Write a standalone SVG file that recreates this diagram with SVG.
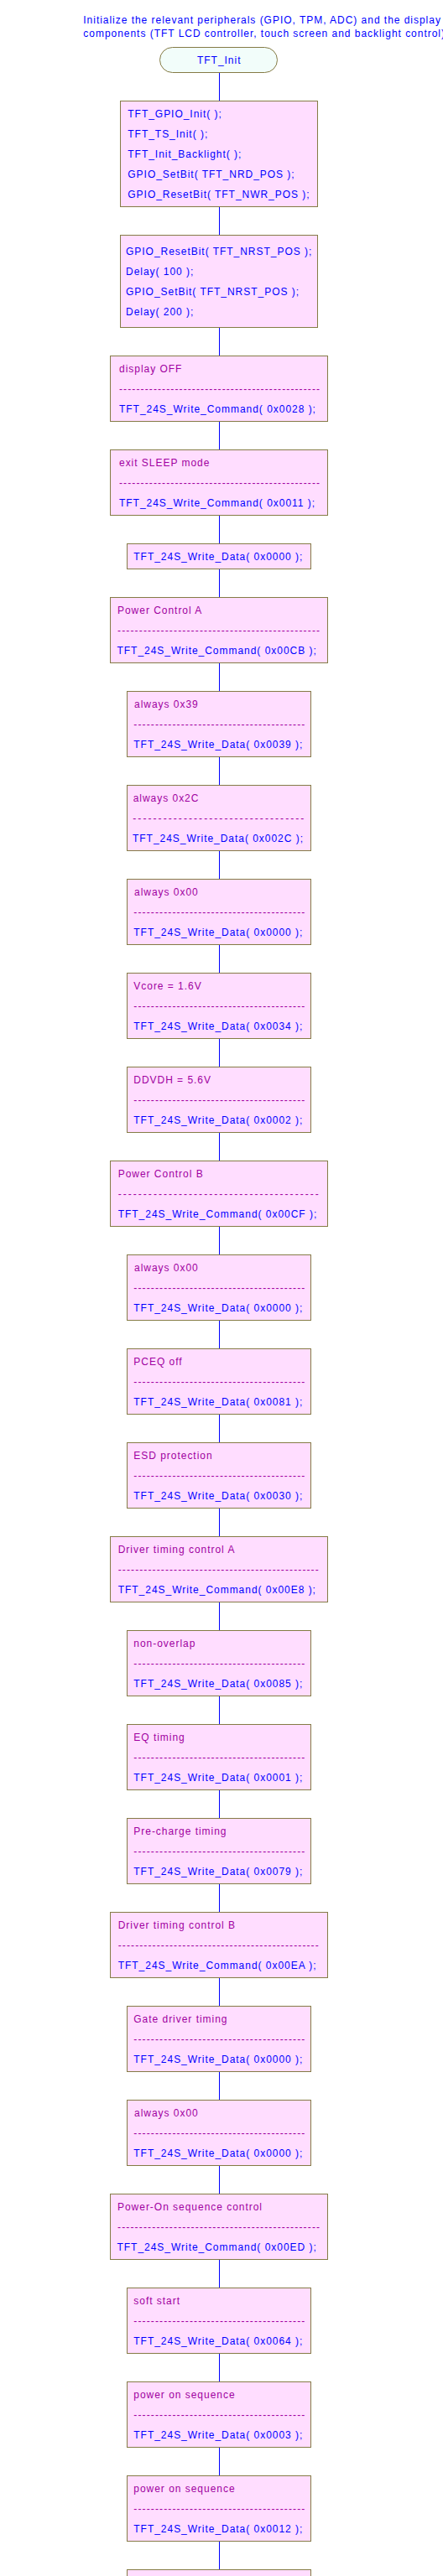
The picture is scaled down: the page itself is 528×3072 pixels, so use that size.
<svg xmlns="http://www.w3.org/2000/svg" width="528" height="3072" viewBox="0 0 528 3072">
<style>
text{font-family:"Liberation Sans",Arial,sans-serif;font-size:12px;letter-spacing:0.97px}
.b{fill:#0000FF}
.p{fill:#A000A0}
.box{fill:#FFDDFF;stroke:#857B45;stroke-width:1}
.term{fill:#F2FDFA;stroke:#857B45;stroke-width:1}
#connectors line{stroke:#0000FF;stroke-width:1}
</style>
<rect width="528" height="3072" fill="#FFFFFF"/>
<g id="header">
<text class="b" x="99.3" y="28.3">Initialize the relevant peripherals (GPIO, TPM, ADC) and the display</text>
<text class="b" x="99.3" y="44.3">components (TFT LCD controller, touch screen and backlight control)</text>
</g>
<g id="connectors">
<line x1="261.5" y1="86.5" x2="261.5" y2="120.5"/>
<line x1="261.5" y1="246.5" x2="261.5" y2="280.5"/>
<line x1="261.5" y1="390.5" x2="261.5" y2="424.5"/>
<line x1="261.5" y1="502.5" x2="261.5" y2="536.5"/>
<line x1="261.5" y1="614.5" x2="261.5" y2="648.5"/>
<line x1="261.5" y1="678.5" x2="261.5" y2="712.5"/>
<line x1="261.5" y1="790.5" x2="261.5" y2="824.5"/>
<line x1="261.5" y1="902.5" x2="261.5" y2="936.5"/>
<line x1="261.5" y1="1014.5" x2="261.5" y2="1048.5"/>
<line x1="261.5" y1="1126.5" x2="261.5" y2="1160.5"/>
<line x1="261.5" y1="1238.5" x2="261.5" y2="1272.5"/>
<line x1="261.5" y1="1350.5" x2="261.5" y2="1384.5"/>
<line x1="261.5" y1="1462.5" x2="261.5" y2="1496.5"/>
<line x1="261.5" y1="1574.5" x2="261.5" y2="1608.5"/>
<line x1="261.5" y1="1686.5" x2="261.5" y2="1720.5"/>
<line x1="261.5" y1="1798.5" x2="261.5" y2="1832.5"/>
<line x1="261.5" y1="1910.5" x2="261.5" y2="1944.5"/>
<line x1="261.5" y1="2022.5" x2="261.5" y2="2056.5"/>
<line x1="261.5" y1="2134.5" x2="261.5" y2="2168.5"/>
<line x1="261.5" y1="2246.5" x2="261.5" y2="2280.5"/>
<line x1="261.5" y1="2358.5" x2="261.5" y2="2392.5"/>
<line x1="261.5" y1="2470.5" x2="261.5" y2="2504.5"/>
<line x1="261.5" y1="2582.5" x2="261.5" y2="2616.5"/>
<line x1="261.5" y1="2694.5" x2="261.5" y2="2728.5"/>
<line x1="261.5" y1="2806.5" x2="261.5" y2="2840.5"/>
<line x1="261.5" y1="2918.5" x2="261.5" y2="2952.5"/>
<line x1="261.5" y1="3030.5" x2="261.5" y2="3064.5"/>
</g>
<g id="n0">
<rect class="term" x="190.5" y="56.5" width="140" height="30" rx="15" ry="15"/>
<text class="b" x="235" y="76">TFT_Init</text>
</g>
<g id="n1">
<rect class="box" x="143.5" y="120.5" width="235" height="126"/>
<text class="b" x="152.3" y="140.3">TFT_GPIO_Init( );</text>
<text class="b" x="152.3" y="164.2">TFT_TS_Init( );</text>
<text class="b" x="152.3" y="188">TFT_Init_Backlight( );</text>
<text class="b" x="152.3" y="211.9">GPIO_SetBit( TFT_NRD_POS );</text>
<text class="b" x="152.3" y="235.7">GPIO_ResetBit( TFT_NWR_POS );</text>
</g>
<g id="n2">
<rect class="box" x="143.5" y="280.5" width="235" height="110"/>
<text class="b" x="150" y="304">GPIO_ResetBit( TFT_NRST_POS );</text>
<text class="b" x="150" y="327.9">Delay( 100 );</text>
<text class="b" x="150" y="351.8">GPIO_SetBit( TFT_NRST_POS );</text>
<text class="b" x="150" y="375.7">Delay( 200 );</text>
</g>
<g id="n3">
<rect class="box" x="131.5" y="424.5" width="259" height="78"/>
<text class="p" x="142" y="444">display OFF</text>
<text class="p" x="142" y="468" textLength="240" lengthAdjust="spacing">-----------------------------------------------</text>
<text class="b" x="142" y="492">TFT_24S_Write_Command( 0x0028 );</text>
</g>
<g id="n4">
<rect class="box" x="131.5" y="536.5" width="259" height="78"/>
<text class="p" x="142" y="556">exit SLEEP mode</text>
<text class="p" x="142" y="580" textLength="240" lengthAdjust="spacing">-----------------------------------------------</text>
<text class="b" x="142" y="604">TFT_24S_Write_Command( 0x0011 );</text>
</g>
<g id="n5">
<rect class="box" x="151.5" y="648.5" width="219" height="30"/>
<text class="b" x="159.3" y="668.3">TFT_24S_Write_Data( 0x0000 );</text>
</g>
<g id="n6">
<rect class="box" x="131.5" y="712.5" width="259" height="78"/>
<text class="p" x="140" y="732">Power Control A</text>
<text class="p" x="140" y="756" textLength="242" lengthAdjust="spacing">-----------------------------------------------</text>
<text class="b" x="139.5" y="780">TFT_24S_Write_Command( 0x00CB );</text>
</g>
<g id="n7">
<rect class="box" x="151.5" y="824.5" width="219" height="78"/>
<text class="p" x="160" y="844">always 0x39</text>
<text class="p" x="159.3" y="868" textLength="205" lengthAdjust="spacing">----------------------------------------</text>
<text class="b" x="159.3" y="892">TFT_24S_Write_Data( 0x0039 );</text>
</g>
<g id="n8">
<rect class="box" x="151.5" y="936.5" width="219" height="78"/>
<text class="p" x="158.7" y="956">always 0x2C</text>
<text class="p" x="158.3" y="980" textLength="205" lengthAdjust="spacing">----------------------------------</text>
<text class="b" x="158" y="1004">TFT_24S_Write_Data( 0x002C );</text>
</g>
<g id="n9">
<rect class="box" x="151.5" y="1048.5" width="219" height="78"/>
<text class="p" x="160" y="1068">always 0x00</text>
<text class="p" x="159.3" y="1092" textLength="205" lengthAdjust="spacing">----------------------------------------</text>
<text class="b" x="159.3" y="1116">TFT_24S_Write_Data( 0x0000 );</text>
</g>
<g id="n10">
<rect class="box" x="151.5" y="1160.5" width="219" height="78"/>
<text class="p" x="159.3" y="1180">Vcore = 1.6V</text>
<text class="p" x="159.3" y="1204" textLength="205" lengthAdjust="spacing">----------------------------------------</text>
<text class="b" x="159.3" y="1228">TFT_24S_Write_Data( 0x0034 );</text>
</g>
<g id="n11">
<rect class="box" x="151.5" y="1272.5" width="219" height="78"/>
<text class="p" x="159.3" y="1292">DDVDH = 5.6V</text>
<text class="p" x="159.3" y="1316" textLength="205" lengthAdjust="spacing">----------------------------------------</text>
<text class="b" x="159.3" y="1340">TFT_24S_Write_Data( 0x0002 );</text>
</g>
<g id="n12">
<rect class="box" x="131.5" y="1384.5" width="259" height="78"/>
<text class="p" x="140.7" y="1404">Power Control B</text>
<text class="p" x="140.7" y="1428" textLength="240" lengthAdjust="spacing">----------------------------------------</text>
<text class="b" x="140.7" y="1452">TFT_24S_Write_Command( 0x00CF );</text>
</g>
<g id="n13">
<rect class="box" x="151.5" y="1496.5" width="219" height="78"/>
<text class="p" x="160" y="1516">always 0x00</text>
<text class="p" x="159.3" y="1540" textLength="205" lengthAdjust="spacing">----------------------------------------</text>
<text class="b" x="159.3" y="1564">TFT_24S_Write_Data( 0x0000 );</text>
</g>
<g id="n14">
<rect class="box" x="151.5" y="1608.5" width="219" height="78"/>
<text class="p" x="159.3" y="1628">PCEQ off</text>
<text class="p" x="159.3" y="1652" textLength="205" lengthAdjust="spacing">----------------------------------------</text>
<text class="b" x="159.3" y="1676">TFT_24S_Write_Data( 0x0081 );</text>
</g>
<g id="n15">
<rect class="box" x="151.5" y="1720.5" width="219" height="78"/>
<text class="p" x="159.3" y="1740">ESD protection</text>
<text class="p" x="159.3" y="1764" textLength="205" lengthAdjust="spacing">----------------------------------------</text>
<text class="b" x="159.3" y="1788">TFT_24S_Write_Data( 0x0030 );</text>
</g>
<g id="n16">
<rect class="box" x="131.5" y="1832.5" width="259" height="78"/>
<text class="p" x="140.7" y="1852">Driver timing control A</text>
<text class="p" x="140.7" y="1876" textLength="240" lengthAdjust="spacing">-----------------------------------------------</text>
<text class="b" x="140.7" y="1900">TFT_24S_Write_Command( 0x00E8 );</text>
</g>
<g id="n17">
<rect class="box" x="151.5" y="1944.5" width="219" height="78"/>
<text class="p" x="159.3" y="1964">non-overlap</text>
<text class="p" x="159.3" y="1988" textLength="205" lengthAdjust="spacing">----------------------------------------</text>
<text class="b" x="159.3" y="2012">TFT_24S_Write_Data( 0x0085 );</text>
</g>
<g id="n18">
<rect class="box" x="151.5" y="2056.5" width="219" height="78"/>
<text class="p" x="159.3" y="2076">EQ timing</text>
<text class="p" x="159.3" y="2100" textLength="205" lengthAdjust="spacing">----------------------------------------</text>
<text class="b" x="159.3" y="2124">TFT_24S_Write_Data( 0x0001 );</text>
</g>
<g id="n19">
<rect class="box" x="151.5" y="2168.5" width="219" height="78"/>
<text class="p" x="159.3" y="2188">Pre-charge timing</text>
<text class="p" x="159.3" y="2212" textLength="205" lengthAdjust="spacing">----------------------------------------</text>
<text class="b" x="159.3" y="2236">TFT_24S_Write_Data( 0x0079 );</text>
</g>
<g id="n20">
<rect class="box" x="131.5" y="2280.5" width="259" height="78"/>
<text class="p" x="140.7" y="2300">Driver timing control B</text>
<text class="p" x="140.7" y="2324" textLength="240" lengthAdjust="spacing">-----------------------------------------------</text>
<text class="b" x="140.7" y="2348">TFT_24S_Write_Command( 0x00EA );</text>
</g>
<g id="n21">
<rect class="box" x="151.5" y="2392.5" width="219" height="78"/>
<text class="p" x="159.3" y="2412">Gate driver timing</text>
<text class="p" x="159.3" y="2436" textLength="205" lengthAdjust="spacing">----------------------------------------</text>
<text class="b" x="159.3" y="2460">TFT_24S_Write_Data( 0x0000 );</text>
</g>
<g id="n22">
<rect class="box" x="151.5" y="2504.5" width="219" height="78"/>
<text class="p" x="160" y="2524">always 0x00</text>
<text class="p" x="159.3" y="2548" textLength="205" lengthAdjust="spacing">----------------------------------------</text>
<text class="b" x="159.3" y="2572">TFT_24S_Write_Data( 0x0000 );</text>
</g>
<g id="n23">
<rect class="box" x="131.5" y="2616.5" width="259" height="78"/>
<text class="p" x="140" y="2636">Power-On sequence control</text>
<text class="p" x="140" y="2660" textLength="242" lengthAdjust="spacing">-----------------------------------------------</text>
<text class="b" x="139.5" y="2684">TFT_24S_Write_Command( 0x00ED );</text>
</g>
<g id="n24">
<rect class="box" x="151.5" y="2728.5" width="219" height="78"/>
<text class="p" x="159.3" y="2748">soft start</text>
<text class="p" x="159.3" y="2772" textLength="205" lengthAdjust="spacing">----------------------------------------</text>
<text class="b" x="159.3" y="2796">TFT_24S_Write_Data( 0x0064 );</text>
</g>
<g id="n25">
<rect class="box" x="151.5" y="2840.5" width="219" height="78"/>
<text class="p" x="159.3" y="2860">power on sequence</text>
<text class="p" x="159.3" y="2884" textLength="205" lengthAdjust="spacing">----------------------------------------</text>
<text class="b" x="159.3" y="2908">TFT_24S_Write_Data( 0x0003 );</text>
</g>
<g id="n26">
<rect class="box" x="151.5" y="2952.5" width="219" height="78"/>
<text class="p" x="159.3" y="2972">power on sequence</text>
<text class="p" x="159.3" y="2996" textLength="205" lengthAdjust="spacing">----------------------------------------</text>
<text class="b" x="159.3" y="3020">TFT_24S_Write_Data( 0x0012 );</text>
</g>
<g id="n27">
<rect class="box" x="151.5" y="3064.5" width="219" height="78"/>
</g>
</svg>
